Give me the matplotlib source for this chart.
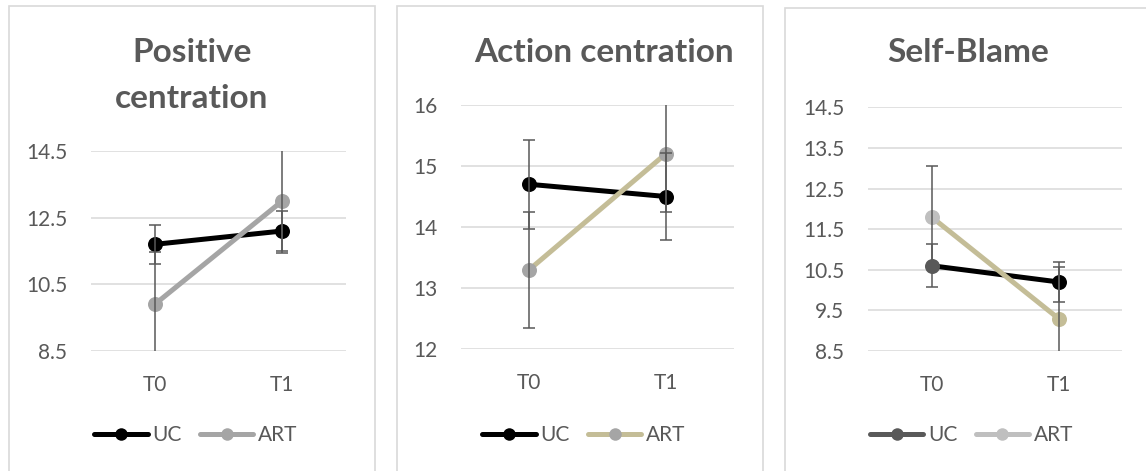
import matplotlib
matplotlib.use("Agg")
import matplotlib.pyplot as plt
from matplotlib.lines import Line2D
from matplotlib.patches import Rectangle

# ---- data ----
categories = ["T0", "T1"]
series_names = ["UC", "ART"]

titles = [["Positive", "centration"], ["Action centration"], ["Self-Blame"]]

pos_uc = [11.7, 12.1]
pos_uc_err = [0.58, 0.60]
pos_art = [9.9, 13.0]
pos_art_err = [1.56, 1.56]

act_uc = [14.7, 14.5]
act_uc_err = [0.73, 0.72]
act_art = [13.3, 15.2]
act_art_err = [0.95, 0.95]

sb_uc = [10.6, 10.2]
sb_uc_err = [0.53, 0.50]
sb_art = [11.8, 9.3]
sb_art_err = [1.26, 1.26]

pos_ticks = [8.5, 10.5, 12.5, 14.5]
act_ticks = [12, 13, 14, 15, 16]
sb_ticks = [8.5, 9.5, 10.5, 11.5, 12.5, 13.5, 14.5]
pos_ticklabels = ["8.5", "10.5", "12.5", "14.5"]
act_ticklabels = ["12", "13", "14", "15", "16"]
sb_ticklabels = ["8.5", "9.5", "10.5", "11.5", "12.5", "13.5", "14.5"]

# ---- styling ----
W, H = 1146, 471
DPI = 100
FONT = "Lato"
TXT = "#595959"
GRID = "#D9D9D9"
ERR = "#595959"
BLACK = "#000000"
GREY = "#A5A5A5"
LGREY = "#BFBFBF"
DGREY = "#595959"
TAN = "#C4BD97"
TICK_FS = 15
TITLE_FS = 24

plt.rcParams["font.family"] = [FONT, "DejaVu Sans"]

fig = plt.figure(figsize=(W / DPI, H / DPI), dpi=DPI)

def fx(px):
    return px / W

def fy(py):
    return 1 - py / H

# panel borders (x0, x1, ytop)
for x0, x1, yt in [(8.5, 374.5, 6.5), (397, 763, 6.5), (785, 1155, 8)]:
    fig.patches.append(Rectangle((fx(x0), fy(H + 10)), fx(x1) - fx(x0), fy(yt) - fy(H + 10),
                                 transform=fig.transFigure, fill=False,
                                 edgecolor=GRID, linewidth=1.2, zorder=0))

panels = [
    dict(rect=(91, 346, 151, 351), ylim=(8.5, 14.5), ticks=pos_ticks, labels=pos_ticklabels,
         uc=pos_uc, uce=pos_uc_err, art=pos_art, arte=pos_art_err,
         uc_line=BLACK, uc_mk=[BLACK, BLACK], art_line=GREY, art_mk=[GREY, GREY],
         leg_uc=(BLACK, BLACK), leg_art=(GREY, GREY),
         title_x=192, title_y=[53, 98], legend_x=196),
    dict(rect=(461, 734, 105, 349), ylim=(12, 16), ticks=act_ticks, labels=act_ticklabels,
         uc=act_uc, uce=act_uc_err, art=act_art, arte=act_art_err,
         uc_line=BLACK, uc_mk=[BLACK, BLACK], art_line=TAN, art_mk=[GREY, GREY],
         leg_uc=(BLACK, BLACK), leg_art=(TAN, GREY),
         title_x=603.5, title_y=[53], legend_x=584),
    dict(rect=(868, 1122, 107.3, 351), ylim=(8.5, 14.5), ticks=sb_ticks, labels=sb_ticklabels,
         uc=sb_uc, uce=sb_uc_err, art=sb_art, arte=sb_art_err,
         uc_line=BLACK, uc_mk=[DGREY, BLACK], art_line=TAN, art_mk=[LGREY, TAN],
         leg_uc=(DGREY, DGREY), leg_art=(LGREY, LGREY),
         title_x=968, title_y=[53], legend_x=971.5),
]

x = [0, 1]
LW = 3.6
MS = 10.8

for i, p in enumerate(panels):
    l, r, t, b = p["rect"]
    ax = fig.add_axes([fx(l), fy(b), fx(r) - fx(l), fy(t) - fy(b)])
    ax.set_xlim(-0.5, 1.5)
    ax.set_ylim(*p["ylim"])
    ax.set_yticks(p["ticks"])
    ax.set_yticklabels(p["labels"])
    ax.set_xticks(x)
    ax.set_xticklabels(categories)
    for s in ax.spines.values():
        s.set_visible(False)
    ax.tick_params(axis="both", length=0, labelsize=TICK_FS, labelcolor=TXT)
    ax.tick_params(axis="y", pad=17)
    ax.tick_params(axis="x", pad=17)
    ax.grid(axis="y", color=GRID, linewidth=1.1, zorder=0)
    ax.set_axisbelow(True)
    ax.patch.set_alpha(0)

    # lines
    ax.plot(x, p["uc"], color=p["uc_line"], linewidth=LW, zorder=3, solid_capstyle="round")
    ax.plot(x, p["art"], color=p["art_line"], linewidth=LW, zorder=3, solid_capstyle="round")
    # markers
    for xi, yi, c in zip(x, p["uc"], p["uc_mk"]):
        ax.plot([xi], [yi], marker="o", markersize=MS, color=c, markeredgewidth=0, zorder=4)
    for xi, yi, c in zip(x, p["art"], p["art_mk"]):
        ax.plot([xi], [yi], marker="o", markersize=MS, color=c, markeredgewidth=0, zorder=4)
    # error bars
    ax.errorbar(x, p["uc"], yerr=p["uce"], fmt="none", ecolor=ERR, elinewidth=1.1,
                capsize=4.3, capthick=1.1, zorder=5)
    ax.errorbar(x, p["art"], yerr=p["arte"], fmt="none", ecolor=ERR, elinewidth=1.1,
                capsize=4.3, capthick=1.1, zorder=5)

    # legend
    h_uc = Line2D([], [], color=p["leg_uc"][0], linewidth=LW, marker="o", markersize=9,
                  markerfacecolor=p["leg_uc"][1], markeredgewidth=0, solid_capstyle="round")
    h_art = Line2D([], [], color=p["leg_art"][0], linewidth=LW, marker="o", markersize=9,
                   markerfacecolor=p["leg_art"][1], markeredgewidth=0, solid_capstyle="round")
    leg = ax.legend([h_uc, h_art], series_names, loc="center", ncol=2, frameon=False,
                    bbox_to_anchor=(fx(p["legend_x"]), fy(435)), bbox_transform=fig.transFigure,
                    fontsize=TICK_FS, handlelength=2.55, handletextpad=0.24, columnspacing=0.87,
                    borderaxespad=0, borderpad=0)
    for tx in leg.get_texts():
        tx.set_color(TXT)

    # title
    for line, ty in zip(titles[i], p["title_y"]):
        fig.text(fx(p["title_x"]), fy(ty), line, ha="center", va="center",
                 fontsize=TITLE_FS, fontweight="bold", color=TXT)

fig.savefig("out.png", dpi=DPI)
